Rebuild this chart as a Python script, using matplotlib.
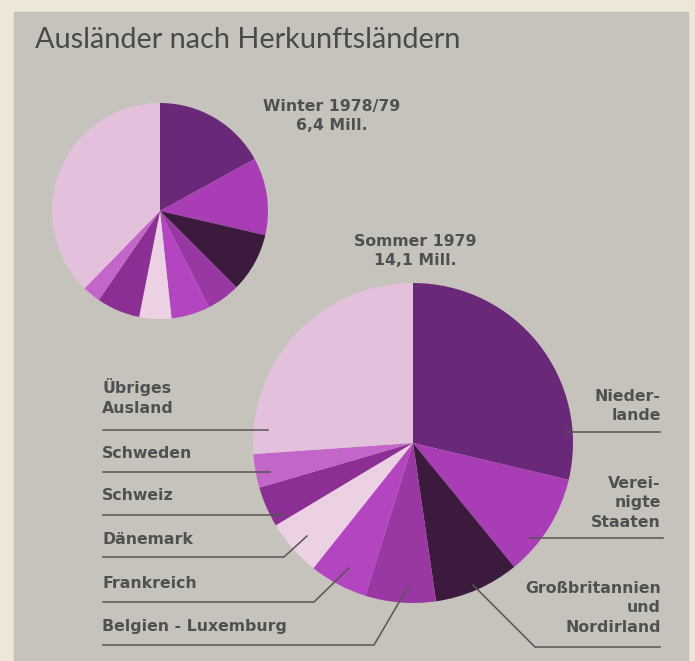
import matplotlib.pyplot as plt
from matplotlib.patches import Rectangle

# shares in percent, clockwise from 12 o'clock
countries = ['Niederlande', 'Vereinigte Staaten', 'Großbritannien und Nordirland',
             'Belgien - Luxemburg', 'Frankreich', 'Dänemark', 'Schweiz', 'Schweden',
             'Übriges Ausland']
winter = [17.0, 11.6, 8.9, 5.0, 5.8, 4.8, 6.5, 2.7, 37.7]
sommer = [28.7, 10.4, 8.6, 7.1, 5.9, 5.7, 4.1, 3.4, 26.1]
colors = ['#6a2878', '#a93db5', '#3b1a3e', '#9a38a3', '#b445c0',
          '#ecd0e4', '#8c2f95', '#c466c9', '#e3c0db']

W, H = 695, 661
fig = plt.figure(figsize=(W / 100, H / 100), dpi=100)
fig.patch.set_facecolor('#ece7d8')
ax = fig.add_axes([0, 0, 1, 1])
ax.axis('off')

def Y(y):
    return H - y

ax.add_patch(Rectangle((14, 0), 674, Y(12), color='#c5c3bc', zorder=0))

ax.pie(winter, colors=colors, startangle=90, counterclock=False,
       center=(160, Y(211)), radius=108, wedgeprops=dict(linewidth=0))
ax.pie(sommer, colors=colors, startangle=90, counterclock=False,
       center=(413, Y(443)), radius=160, wedgeprops=dict(linewidth=0))
ax.set_xlim(0, W)
ax.set_ylim(0, H)
ax.set_aspect('auto')

txt = '#505050'
ax.text(35, Y(40), 'Ausländer nach Herkunftsländern', fontsize=20.8, family='Lato',
        color='#4a4a48', va='center', ha='left')
lab = dict(fontsize=11.3, family='DejaVu Sans', fontweight='bold', color=txt,
           linespacing=1.4)
ax.text(332, Y(116), 'Winter 1978/79\n6,4 Mill.', ha='center', va='center', **lab)
ax.text(415, Y(251), 'Sommer 1979\n14,1 Mill.', ha='center', va='center', **lab)

# left labels with leader lines
left = [('Übriges\nAusland', 397, [(103, 430), (268, 430)]),
        ('Schweden', 453, [(103, 472), (270, 472)]),
        ('Schweiz', 496, [(103, 515), (285, 515)]),
        ('Dänemark', 540, [(103, 557), (284, 557), (307, 536)]),
        ('Frankreich', 583, [(103, 602), (314, 602), (349, 568)]),
        ('Belgien - Luxemburg', 627, [(103, 645), (374, 645), (408, 587)])]
for t, y, pts in left:
    ax.text(102, Y(y), t, ha='left', va='center', **lab)
    ax.plot([p[0] for p in pts], [Y(p[1]) for p in pts], color='#555553', lw=1.1)

right = [('Nieder-\nlande', 406, [(565, 432), (660, 432)]),
         ('Verei-\nnigte\nStaaten', 503, [(530, 538), (663, 538)]),
         ('Großbritannien\nund\nNordirland', 608, [(473, 585), (535, 647), (660, 647)])]
for t, y, pts in right:
    ax.text(661, Y(y), t, ha='right', va='center', multialignment='right', **lab)
    ax.plot([p[0] for p in pts], [Y(p[1]) for p in pts], color='#555553', lw=1.1)

fig.savefig('out.png', dpi=100, facecolor=fig.get_facecolor())
